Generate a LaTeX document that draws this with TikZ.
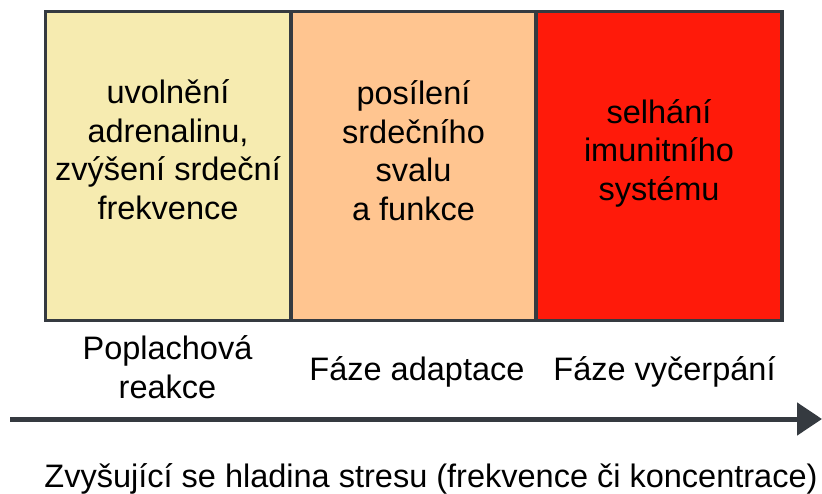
\documentclass[tikz,border=0pt]{standalone}
\usepackage{fontspec}
\setmainfont{Liberation Sans}
\usetikzlibrary{arrows.meta}
\definecolor{boxline}{HTML}{353A40}
\definecolor{alarmfill}{HTML}{F6EBB0}
\definecolor{adaptfill}{HTML}{FFC590}
\definecolor{exhaustfill}{HTML}{FF1A0A}
\begin{document}
\begin{tikzpicture}[x=1pt,y=-1pt,
  phase/.style={draw=boxline, line width=3.5pt, anchor=north west, minimum height=309pt, inner sep=0pt, outer sep=0pt},
  txt/.style={font=\fontsize{32.5}{38.5}\selectfont, align=center, anchor=base, inner sep=0pt, text=black},
  axis/.style={draw=boxline, line width=5pt, -{Triangle[length=25pt,width=32pt]}}
]
\useasboundingbox (0,0) rectangle (822,493);
\node[phase, fill=alarmfill, minimum width=245.5pt] (b1) at (45.5,11.5) {};
\node[phase, fill=adaptfill, minimum width=245pt] (b2) at (291,11.5) {};
\node[phase, fill=exhaustfill, minimum width=246pt] (b3) at (536,11.5) {};

% base anchor = baseline of the last line
\node[txt] (t1) at (168,219) {uvolnění\\adrenalinu,\\zvýšení srdeční\\frekvence};
\node[txt] (t2) at (413.5,220) {posílení\\srdečního\\svalu\\a funkce};
\node[txt] (t3) at (659,200) {selhání\\imunitního\\systému};

\node[txt] (l1) at (167.5,398) {Poplachová\\reakce};
\node[txt] (l2) at (417,380) {Fáze adaptace};
\node[txt] (l3) at (664.5,380) {Fáze vyčerpání};

\coordinate (as) at (10,419);
\coordinate (ae) at (822,419);
\draw[axis] (as) -- (ae);

\node[txt] (cap) at (431,487) {Zvyšující se hladina stresu (frekvence či koncentrace)};
\end{tikzpicture}
\end{document}
